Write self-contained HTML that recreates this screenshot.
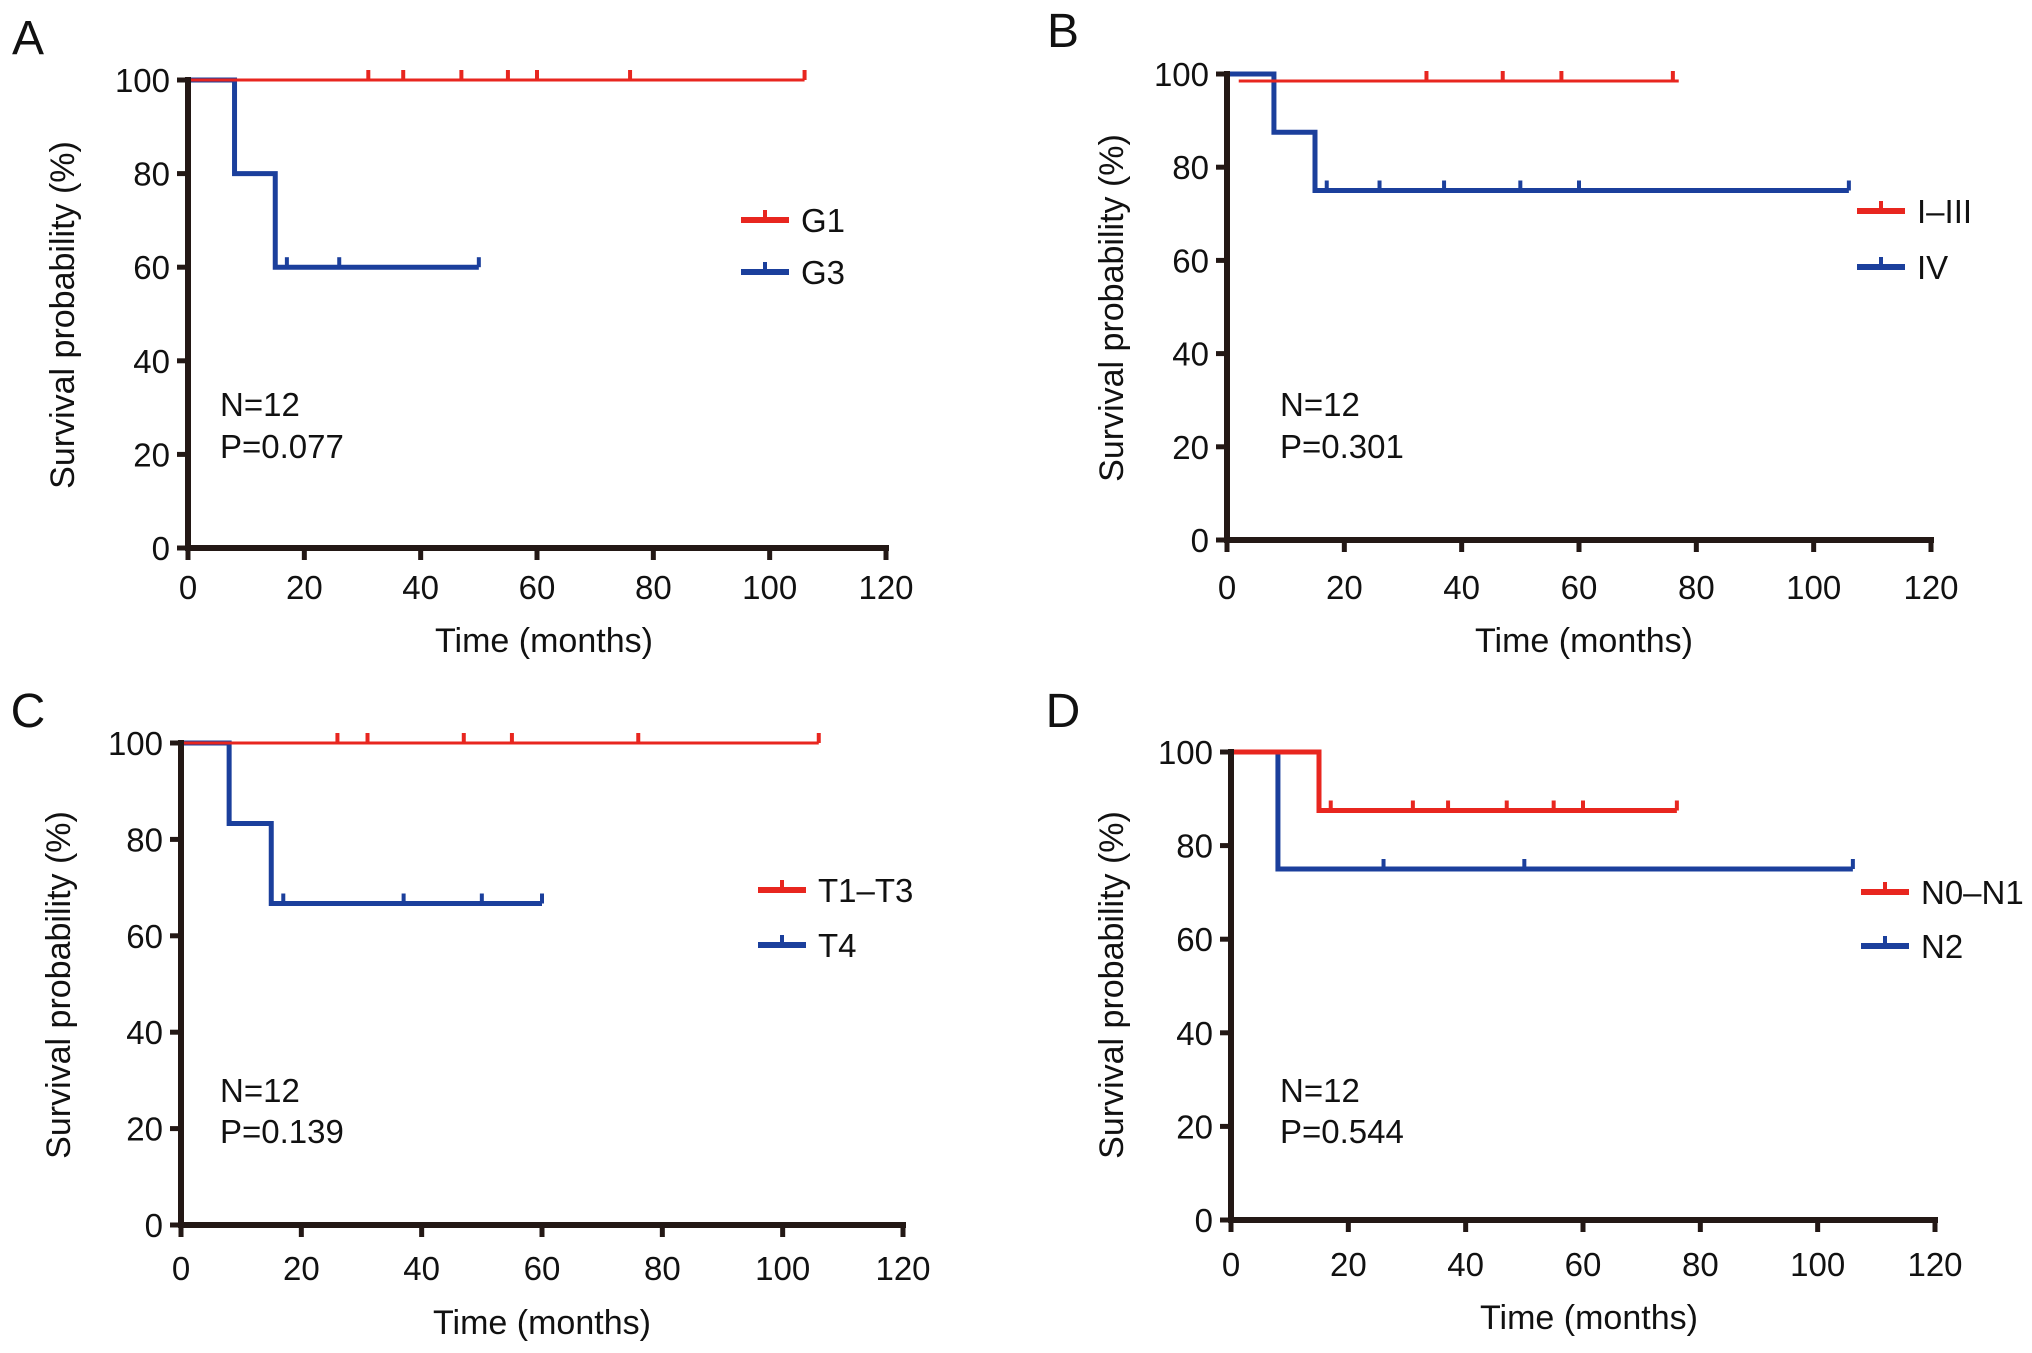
<!DOCTYPE html>
<html><head><meta charset="utf-8"><style>
html,body{margin:0;padding:0;background:#fff;}
svg{display:block;font-family:"Liberation Sans",Arial,sans-serif;}
</style></head><body>
<svg id="fig" width="2032" height="1353" viewBox="0 0 2032 1353"></svg>
<script>
// ---- data ----
const xTicks = [0,20,40,60,80,100,120];
const yTicks = [0,20,40,60,80,100];
// Panel A
const aRedSteps = [[0,100],[106,100]];
const aRedCensor = [31,37,47,55,60,76,106];
const aBlueSteps = [[0,100],[8,80],[15,60],[50,60]];
const aBlueCensor = [17,26,50];
// Panel B
const bRedSteps = [[2,98.5],[77,98.5]];
const bRedCensor = [34,47,57,76];
const bBlueSteps = [[0,100],[8,87.5],[15,75],[106,75]];
const bBlueCensor = [17,26,37,50,60,106];
// Panel C
const cRedSteps = [[0,100],[106,100]];
const cRedCensor = [26,31,47,55,76,106];
const cBlueSteps = [[0,100],[8,83.3],[15,66.7],[60,66.7]];
const cBlueCensor = [17,37,50,60];
// Panel D
const dRedSteps = [[0,100],[15,87.5],[76,87.5]];
const dRedCensor = [17,31,37,47,55,60,76];
const dBlueSteps = [[0,100],[8,75],[106,75]];
const dBlueCensor = [26,50,106];
// labels
const legendA = ["G1","G3"], legendB = ["I\u2013III","IV"], legendC = ["T1\u2013T3","T4"], legendD = ["N0\u2013N1","N2"];
const statsA = ["N=12","P=0.077"], statsB = ["N=12","P=0.301"], statsC = ["N=12","P=0.139"], statsD = ["N=12","P=0.544"];

const RED = "#e8261f", BLUE = "#1b3f9c", AX = "#231815";
const NS = "http://www.w3.org/2000/svg";
const svg = document.getElementById('fig');
function mk(tag, attrs, parent){ const e=document.createElementNS(NS,tag); for(const k in attrs) e.setAttribute(k,attrs[k]); (parent||svg).appendChild(e); return e; }

const panels = [
 {id:'a', letter:'A', lx:28, ly:36, x0:188, x1:886, y100:80, y0:548, xlOff:0, red:aRedSteps, redC:aRedCensor, redW:3, blue:aBlueSteps, blueC:aBlueCensor, leg:legendA, legX:741, legY:[220,272], stats:statsA, sx:220, sy:[404,446], ytX:62, ytY:315, xtX:544, xtY:640},
 {id:'b', letter:'B', lx:1063, ly:29, x0:1227, x1:1931, y100:74, y0:540, xlOff:8, red:bRedSteps, redC:bRedCensor, redW:3, blue:bBlueSteps, blueC:bBlueCensor, leg:legendB, legX:1857, legY:[211,267], stats:statsB, sx:1280, sy:[404,446], ytX:1111, ytY:308, xtX:1584, xtY:640},
 {id:'c', letter:'C', lx:28, ly:709, x0:181, x1:903, y100:743, y0:1225, xlOff:4, red:cRedSteps, redC:cRedCensor, redW:3, blue:cBlueSteps, blueC:cBlueCensor, leg:legendC, legX:758, legY:[890,945], stats:statsC, sx:220, sy:[1090,1131], ytX:58, ytY:985, xtX:542, xtY:1322},
 {id:'d', letter:'D', lx:1063, ly:709, x0:1231, x1:1935, y100:752, y0:1220, xlOff:5, red:dRedSteps, redC:dRedCensor, redW:5, blue:dBlueSteps, blueC:dBlueCensor, leg:legendD, legX:1861, legY:[892,946], stats:statsD, sx:1280, sy:[1090,1131], ytX:1111, ytY:985, xtX:1589, xtY:1317}
];

panels.forEach(p=>{
  const g = mk('g',{});
  
  
  const X = v => p.x0 + (p.x1-p.x0)*v/120;
  const Y = v => p.y0 - (p.y0-p.y100)*v/100;
  const lt = mk('text',{x:p.lx,y:p.ly+18,'font-size':48,'text-anchor':'middle',fill:'#111'},g); lt.textContent=p.letter;
  
  
  function curve(steps, cens, color, w, name){
    let d = `M${X(steps[0][0])},${Y(steps[0][1])}`;
    for(let i=1;i<steps.length;i++){ d += ` H${X(steps[i][0])} V${Y(steps[i][1])}`; }
    const path = mk('path',{d:d,fill:'none',stroke:color,'stroke-width':w},g);
    
    
    cens.forEach(t=>{
      let s=steps[0][1]; for(const st of steps){ if(st[0]<=t) s=st[1]; }
      const c = mk('line',{x1:X(t),x2:X(t),y1:Y(s),y2:Y(s)-10,stroke:color,'stroke-width':4},g);
      
      
    });
  }
  curve(p.blue,p.blueC,BLUE,5,'blue');
  curve(p.red,p.redC,RED,p.redW,'red');
  const ya = mk('line',{x1:p.x0,x2:p.x0,y1:Y(100)-3,y2:p.y0+3,stroke:AX,'stroke-width':6},g);
   
  const xa = mk('line',{x1:p.x0-3,x2:X(120)+3,y1:p.y0,y2:p.y0,stroke:AX,'stroke-width':6},g);
   
  yTicks.forEach(v=>{
    const t = mk('line',{x1:p.x0-11,x2:p.x0,y1:Y(v),y2:Y(v),stroke:AX,'stroke-width':5},g);
     
    const l = mk('text',{x:p.x0-18,y:Y(v)+12,'font-size':33,'text-anchor':'end',fill:'#111'},g); l.textContent=v;
     
  });
  xTicks.forEach(v=>{
    const t = mk('line',{x1:X(v),x2:X(v),y1:p.y0,y2:p.y0+12,stroke:AX,'stroke-width':5},g);
     
    const l = mk('text',{x:X(v),y:p.y0+51+p.xlOff,'font-size':33,'text-anchor':'middle',fill:'#111'},g); l.textContent=v;
     
  });
  const xt = mk('text',{x:p.xtX,y:p.xtY+12,'font-size':34,'text-anchor':'middle',fill:'#111'},g); xt.textContent='Time (months)';
   
  const yt = mk('text',{x:0,y:0,'font-size':34,'text-anchor':'middle',fill:'#111',transform:`translate(${p.ytX+12},${p.ytY}) rotate(-90)`},g); yt.textContent='Survival probability (%)';
   
  [RED,BLUE].forEach((c,i)=>{
    const ln = mk('line',{x1:p.legX,x2:p.legX+48,y1:p.legY[i],y2:p.legY[i],stroke:c,'stroke-width':6},g);
     
    const tk = mk('line',{x1:p.legX+24,x2:p.legX+24,y1:p.legY[i],y2:p.legY[i]-10,stroke:c,'stroke-width':4},g);
     
    const tx = mk('text',{x:p.legX+60,y:p.legY[i]+12,'font-size':33,fill:'#111'},g); tx.textContent=p.leg[i];
     
  });
  p.stats.forEach((s,i)=>{
    const tx = mk('text',{x:p.sx,y:p.sy[i]+12,'font-size':33,fill:'#111'},g); tx.textContent=s;
     
  });
});
</script>
</body></html>
